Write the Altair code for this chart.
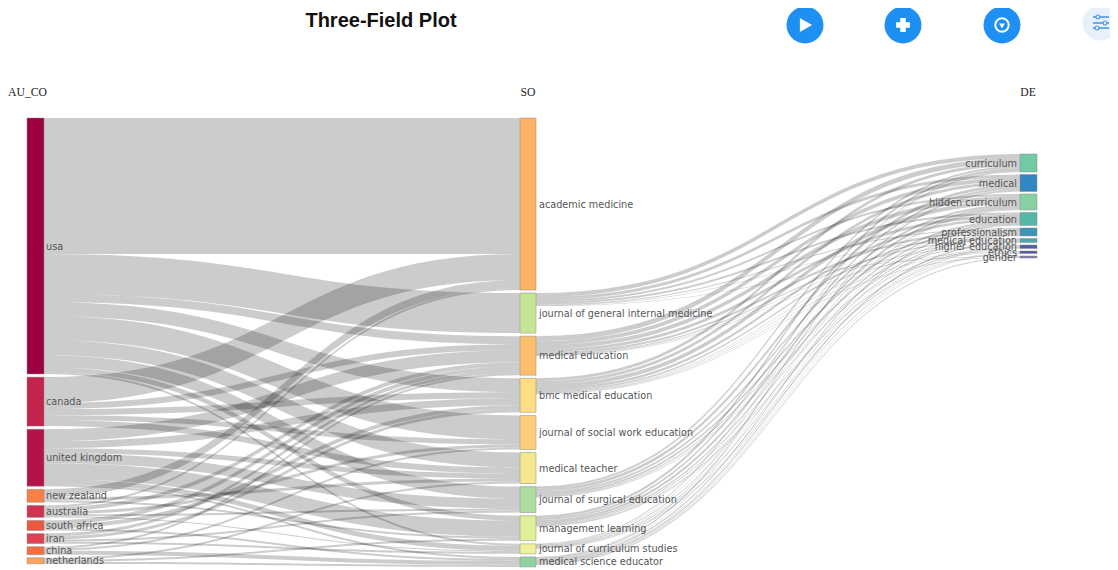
import altair as alt
import pandas as pd

alt.data_transformers.disable_max_rows()

# ---- categories -------------------------------------------------------
countries = ["usa", "canada", "united kingdom", "new zealand", "australia",
             "south africa", "iran", "china", "netherlands"]
journals = ["academic medicine", "journal of general internal medicine", "medical education",
            "bmc medical education", "journal of social work education", "medical teacher",
            "journal of surgical education", "management learning",
            "journal of curriculum studies", "medical science educator"]
keywords = ["curriculum", "medical", "hidden curriculum", "education", "professionalism",
            "medical education", "higher education", "ethics", "gender"]

# ---- flows (estimated from band widths) --------------------------------
usa_flows = [136, 40, 8, 14, 24, 15, 12, 5, 2, 0]
canada_flows = [26, 0, 6, 6, 5, 6, 0, 0, 0, 0]
uk_flows = [0, 0, 12, 7, 0, 5, 10, 16, 5, 2]
nz_flows = [8, 0, 0, 0, 0, 3, 0, 2, 0, 0]
australia_flows = [2, 0, 4, 0, 3, 0, 2, 0, 1, 0]
south_africa_flows = [0, 0, 4, 4, 0, 0, 0, 0, 0, 2]
iran_flows = [0, 0, 3, 3, 0, 0, 2, 0, 2, 0]
china_flows = [0, 0, 2, 0, 2, 0, 0, 0, 0, 4]
netherlands_flows = [0, 0, 0, 0, 0, 2, 0, 2, 0, 2]
left_matrix = [usa_flows, canada_flows, uk_flows, nz_flows, australia_flows,
               south_africa_flows, iran_flows, china_flows, netherlands_flows]

academic_out = [0, 0, 0, 0, 0, 0, 0, 0, 0]
jgim_out = [4, 3, 2, 2, 1, 0.5, 0, 0, 0.5]
meded_out = [5, 4, 4, 3, 2, 1, 0.5, 0.5, 0]
bmc_out = [3, 3, 4, 2.5, 1.5, 0.5, 0.5, 0.5, 0.5]
jswe_out = [0, 0, 0, 0, 0, 0, 0, 0, 0]
teacher_out = [0, 0, 0, 0, 0, 0, 0, 0, 0]
surgical_out = [2, 3, 2, 2, 1, 0.5, 0.5, 0, 0]
mgmt_out = [2.5, 2, 2.5, 1.5, 1, 0, 1, 0.5, 0]
curric_out = [1, 0.5, 1, 0.5, 1, 0, 0.5, 0.5, 0]
science_out = [0.5, 1.5, 0.5, 1.5, 0.5, 1.5, 0.5, 0.5, 1]
right_matrix = [academic_out, jgim_out, meded_out, bmc_out, jswe_out, teacher_out,
                surgical_out, mgmt_out, curric_out, science_out]

# ---- colours -----------------------------------------------------------
country_colors = ["#9E0142", "#C2244B", "#B2134A", "#F98044", "#CF3350", "#E9593F",
                  "#DF4150", "#F46D43", "#FBA35B"]
journal_colors = ["#FDB366", "#C7E594", "#FDBE6E", "#FEDD83", "#FDCF7C", "#F3E68D",
                  "#AEDD9F", "#DDF098", "#EEF09A", "#90D3A0"]
keyword_colors = ["#72C9A4", "#3387C0", "#86D0A4", "#55B7A8", "#3A95B6", "#4BA6AF",
                  "#4A60A8", "#5A55A5", "#7A7AB0"]

# ---- layout (page pixels) ---------------------------------------------
W, H = 1102, 561
col_left = (27, 44)
col_mid = (520, 536)
col_right = (1020, 1037)
tops = (118, 118, 154)
gaps = (3.1, 3.1, 2.5)
x_scale = alt.Scale(domain=[8, 8 + W], range=[0, W])
y_scale = alt.Scale(domain=[8, 8 + H], range=[0, H])


def stack(sizes, top, gap):
    out, y = [], top
    for s in sizes:
        out.append(y)
        y += s + gap
    return out


left_sizes = [sum(r) for r in left_matrix]
mid_in = [sum(r[j] for r in left_matrix) for j in range(len(journals))]
mid_out = [sum(r) for r in right_matrix]
mid_sizes = [max(a, b) for a, b in zip(mid_in, mid_out)]
right_sizes = [sum(r[j] for r in right_matrix) for j in range(len(keywords))]

left_y = stack(left_sizes, tops[0], gaps[0])
mid_y = stack(mid_sizes, tops[1], gaps[1])
right_y = stack(right_sizes, tops[2], gaps[2])


def ribbons(matrix, src_y, dst_y, x0, x1, prefix):
    rows = []
    s_off = list(src_y)
    d_off = list(dst_y)
    steps = 30
    for i, row in enumerate(matrix):
        for j, v in enumerate(row):
            if v <= 0:
                continue
            ys, yd = s_off[i], d_off[j]
            for k in range(steps + 1):
                t = k / steps
                fx = 1.5 * t * (1 - t) ** 2 + 1.5 * t * t * (1 - t) + t ** 3
                fy = 3 * t * t * (1 - t) + t ** 3
                top = ys + (yd - ys) * fy
                rows.append({"link": f"{prefix}{i}-{j}", "x": x0 + (x1 - x0) * fx,
                             "y": top, "y2": top + v})
            s_off[i] += v
            d_off[j] += v
    return rows


link_df = pd.DataFrame(
    ribbons(left_matrix, left_y, mid_y, col_left[1], col_mid[0], "a")
    + ribbons(right_matrix, mid_y, right_y, col_mid[1], col_right[0], "b")
)


def node_rows(names, ys, sizes, colors, col, label_x, side):
    return [{"name": n, "y": y, "y2": y + s, "mid": y + s / 2 + 0.5, "color": c,
             "x": col[0], "x2": col[1], "lx": label_x, "side": side}
            for n, y, s, c in zip(names, ys, sizes, colors)]


nodes_left = node_rows(countries, left_y, left_sizes, country_colors, col_left, 46, "left")
nodes_mid = node_rows(journals, mid_y, mid_sizes, journal_colors, col_mid, 539, "left")
nodes_right = node_rows(keywords, right_y, right_sizes, keyword_colors, col_right, 1017, "right")
node_df = pd.DataFrame(nodes_left + nodes_mid + nodes_right)

X = lambda f: alt.X(f, type="quantitative", scale=x_scale, axis=None)
Y = lambda f: alt.Y(f, type="quantitative", scale=y_scale, axis=None)

links = alt.Chart(link_df).mark_area(color="black", opacity=0.2, interpolate="linear").encode(
    x=X("x"), y=Y("y"), y2=alt.Y2("y2"), detail="link:N")

rects = alt.Chart(node_df).mark_rect(stroke="#8a8a8a", strokeWidth=0.5).encode(
    x=X("x"), x2=alt.X2("x2"), y=Y("y"), y2=alt.Y2("y2"),
    color=alt.Color("color:N", scale=None))

LABEL = dict(font="DejaVu Sans", fontSize=9.7, color="#555555", baseline="middle")
labels_l = alt.Chart(node_df[node_df["side"] == "left"]).mark_text(align="left", **LABEL).encode(
    x=X("lx"), y=Y("mid"), text="name:N")
labels_r = alt.Chart(node_df[node_df["side"] == "right"]).mark_text(align="right", **LABEL).encode(
    x=X("lx"), y=Y("mid"), text="name:N")

headers = pd.DataFrame({"t": ["AU_CO", "SO", "DE"], "x": [27.5, 528, 1028], "y": [92, 92, 92]})
head = alt.Chart(headers).mark_text(font="Liberation Serif", fontSize=11.7,
                                    color="#222222", baseline="middle").encode(
    x=X("x"), y=Y("y"), text="t:N")

title_df = pd.DataFrame({"t": ["Three-Field Plot"], "x": [381], "y": [21]})
title = alt.Chart(title_df).mark_text(font="Liberation Sans", fontSize=20, fontWeight="bold",
                                      color="#111111", baseline="middle").encode(
    x=X("x"), y=Y("y"), text="t:N")

# ---- toolbar buttons ---------------------------------------------------
btn_df = pd.DataFrame({"x": [805, 903, 1002], "y": [25, 25, 25]})
buttons = alt.Chart(btn_df).mark_circle(color="#1E8FF3", opacity=1, size=1369).encode(
    x=X("x"), y=Y("y"))
play = alt.Chart(pd.DataFrame({"x": [806], "y": [25]})).mark_point(
    shape="triangle-right", filled=True, color="white", opacity=1, size=200).encode(x=X("x"), y=Y("y"))
plus = alt.Chart(pd.DataFrame({"x": [903], "y": [25]})).mark_point(
    shape="cross", filled=True, color="white", opacity=1, size=190).encode(x=X("x"), y=Y("y"))
ring = alt.Chart(pd.DataFrame({"x": [1002], "y": [25]})).mark_point(
    shape="circle", filled=False, color="white", opacity=1, size=180, strokeWidth=2).encode(x=X("x"), y=Y("y"))
arrow = alt.Chart(pd.DataFrame({"x": [1002], "y": [26]})).mark_point(
    shape="triangle-down", filled=True, color="white", opacity=1, size=35).encode(x=X("x"), y=Y("y"))
pale = alt.Chart(pd.DataFrame({"x": [1100], "y": [23]})).mark_circle(
    color="#E9F0FB", opacity=1, size=1225).encode(x=X("x"), y=Y("y"))
slider_lines = pd.DataFrame({"x": [1093, 1093, 1093], "x2": [1109, 1109, 1109], "y": [17, 23, 28]})
sl = alt.Chart(slider_lines).mark_rule(color="#3D94F0", strokeWidth=1.5).encode(
    x=X("x"), x2=alt.X2("x2"), y=Y("y"))
slider_knobs = pd.DataFrame({"x": [1098, 1105, 1097], "y": [17, 23, 28]})
sk = alt.Chart(slider_knobs).mark_point(color="#3D94F0", fill="#E9F0FB", filled=True, opacity=1,
                                        stroke="#3D94F0", strokeWidth=1.2, size=16).encode(
    x=X("x"), y=Y("y"))

chart = alt.layer(
    links, rects, labels_l, labels_r, head, title,
    buttons, play, plus, ring, arrow, pale, sl, sk
).properties(
    width=W, height=H, padding=0, background="white", autosize=alt.AutoSizeParams(type="none")
).configure_view(strokeWidth=0, stroke="transparent")

chart.save("out.html", embed_options={"renderer": "svg", "actions": False})
